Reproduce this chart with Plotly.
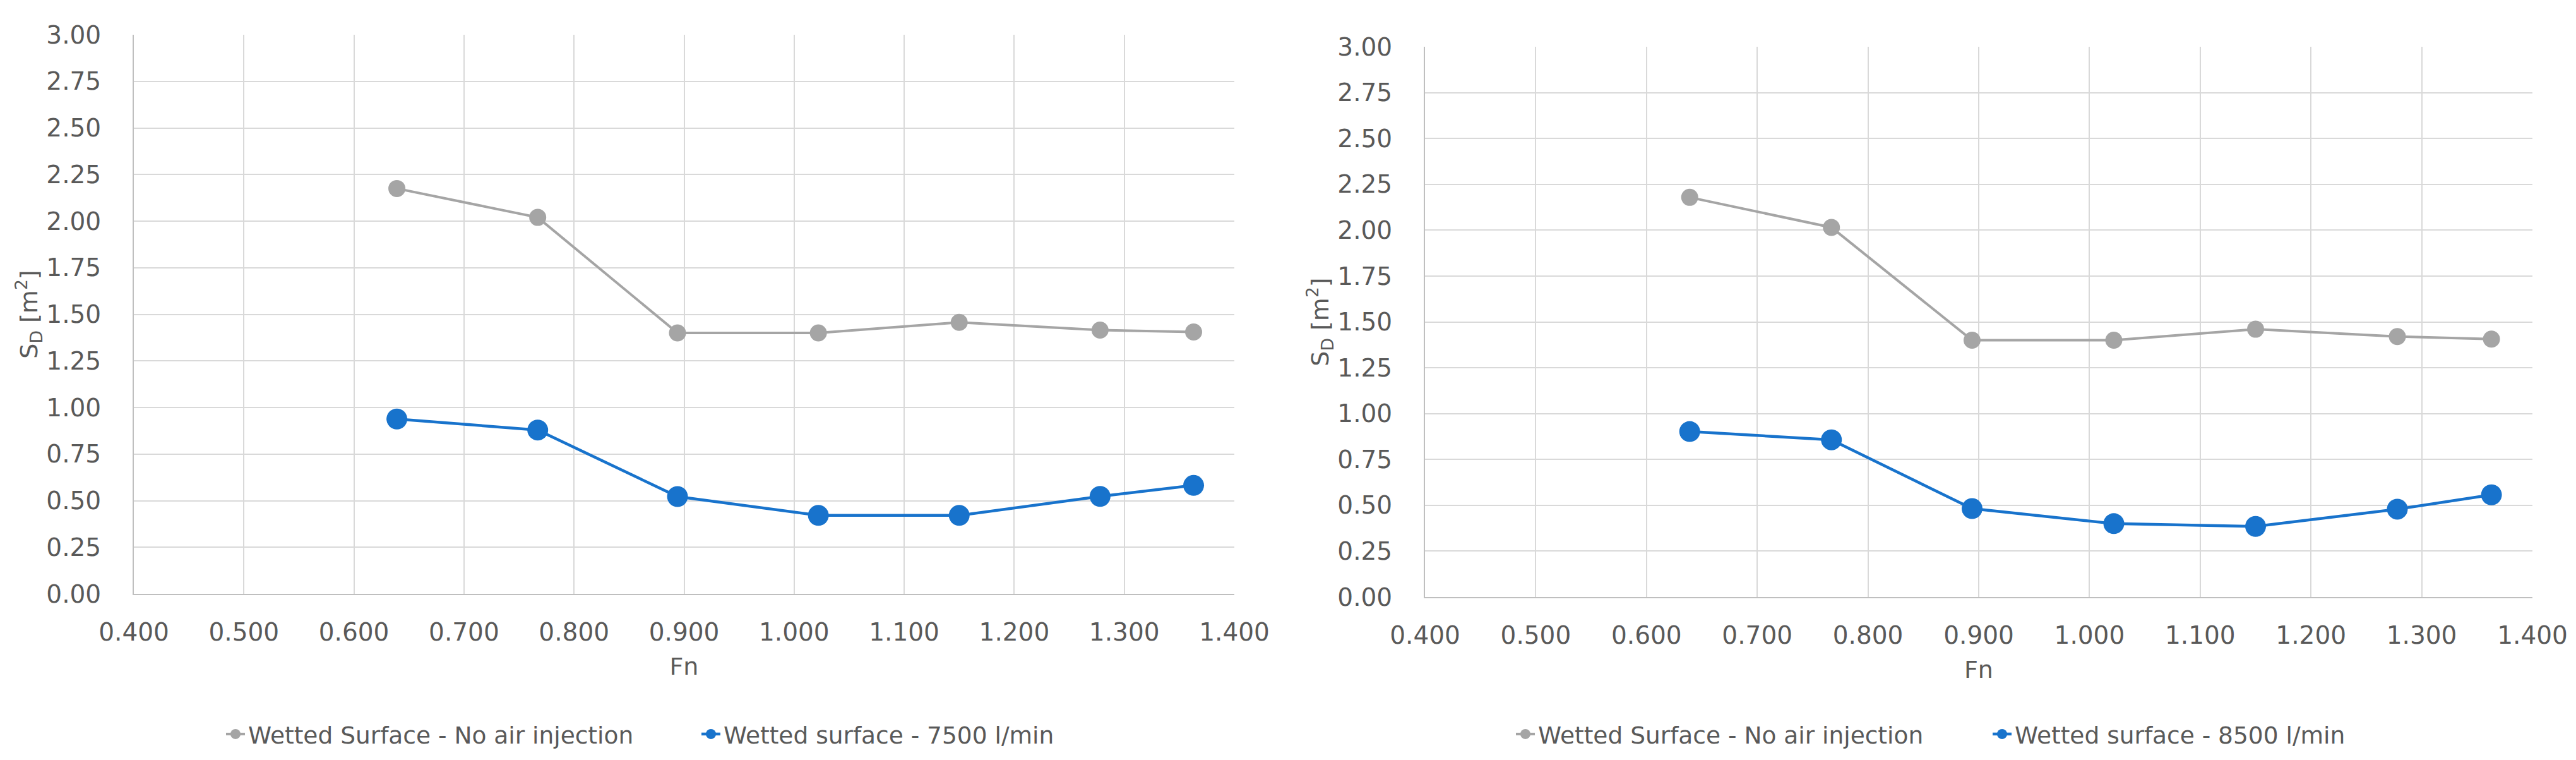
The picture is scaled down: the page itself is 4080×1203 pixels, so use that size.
import plotly.graph_objects as go

# Froude numbers (same for both panels)
fn = [0.639, 0.767, 0.894, 1.022, 1.150, 1.278, 1.363]

# left panel: no air vs 7500 l/min
sd_no_air_a = [2.175, 2.020, 1.400, 1.400, 1.457, 1.415, 1.405]
sd_7500 = [0.938, 0.879, 0.522, 0.421, 0.421, 0.523, 0.582]

# right panel: no air vs 8500 l/min
sd_no_air_b = [2.179, 2.015, 1.400, 1.400, 1.460, 1.420, 1.406]
sd_8500 = [0.902, 0.857, 0.482, 0.400, 0.385, 0.479, 0.557]

x_ticks = [0.4, 0.5, 0.6, 0.7, 0.8, 0.9, 1.0, 1.1, 1.2, 1.3, 1.4]
y_ticks = [0, 0.25, 0.5, 0.75, 1.0, 1.25, 1.5, 1.75, 2.0, 2.25, 2.5, 2.75, 3.0]

GRAY = '#a5a5a5'
BLUE = '#1873cc'
TXT = '#595959'
GRID = '#d9d9d9'
FONT = 'DejaVu Sans'

W, H = 4080, 1203

def gray_trace(y, xa, ya, leg):
    return go.Scatter(x=fn, y=y, xaxis=xa, yaxis=ya, legend=leg,
                      mode='lines+markers', name='Wetted Surface - No air injection',
                      line=dict(color=GRAY, width=4),
                      marker=dict(size=27, color=GRAY))

def blue_trace(y, name, xa, ya, leg):
    return go.Scatter(x=fn, y=y, xaxis=xa, yaxis=ya, legend=leg,
                      mode='lines+markers', name=name,
                      line=dict(color=BLUE, width=4.5),
                      marker=dict(size=33, color=BLUE))

fig = go.Figure()
fig.add_trace(gray_trace(sd_no_air_a, 'x', 'y', 'legend'))
fig.add_trace(blue_trace(sd_7500, 'Wetted surface - 7500 l/min', 'x', 'y', 'legend'))
fig.add_trace(gray_trace(sd_no_air_b, 'x2', 'y2', 'legend2'))
fig.add_trace(blue_trace(sd_8500, 'Wetted surface - 8500 l/min', 'x2', 'y2', 'legend2'))

def xaxis(dom, anchor):
    return dict(domain=dom, anchor=anchor, range=[0.4, 1.4], tickvals=x_ticks,
                tickformat='.3f', showgrid=True, gridcolor=GRID, gridwidth=2,
                showline=True, linecolor='#bfbfbf', linewidth=2, zeroline=False,
                ticks='', ticklabelstandoff=25, automargin=False,
                tickfont=dict(family=FONT, size=39, color=TXT),
                title=dict(text='Fn', font=dict(family=FONT, size=38, color=TXT), standoff=20))

def yaxis(dom, anchor):
    return dict(domain=dom, anchor=anchor, range=[0, 3], tickvals=y_ticks,
                tickformat='.2f', showgrid=True, gridcolor=GRID, gridwidth=2,
                showline=True, linecolor='#bfbfbf', linewidth=2, zeroline=False,
                ticks='', ticklabelstandoff=42, automargin=False,
                tickfont=dict(family=FONT, size=39, color=TXT),
                title=dict(text='S<sub>D</sub> [m<sup>2</sup>]',
                           font=dict(family=FONT, size=38, color=TXT), standoff=0))

leg_font = dict(family=FONT, size=37.5, color=TXT)

fig.update_layout(
    width=W, height=H,
    margin=dict(l=0, r=0, t=0, b=0),
    paper_bgcolor='white', plot_bgcolor='white',
    xaxis=xaxis([204 / W, 1947 / W], 'y'),
    yaxis=yaxis([(H - 932) / H, (H - 47) / H], 'x'),
    xaxis2=xaxis([2249 / W, 4003 / W], 'y2'),
    yaxis2=yaxis([(H - 937) / H, (H - 66) / H], 'x2'),
    legend=dict(orientation='h', x=345 / W, y=(H - 1154) / H, xanchor='left', yanchor='middle',
                font=leg_font, entrywidth=708, itemwidth=30),
    legend2=dict(orientation='h', x=2388 / W, y=(H - 1154) / H, xanchor='left', yanchor='middle',
                 font=leg_font, entrywidth=710, itemwidth=30),
)

fig.write_html("out.html")
